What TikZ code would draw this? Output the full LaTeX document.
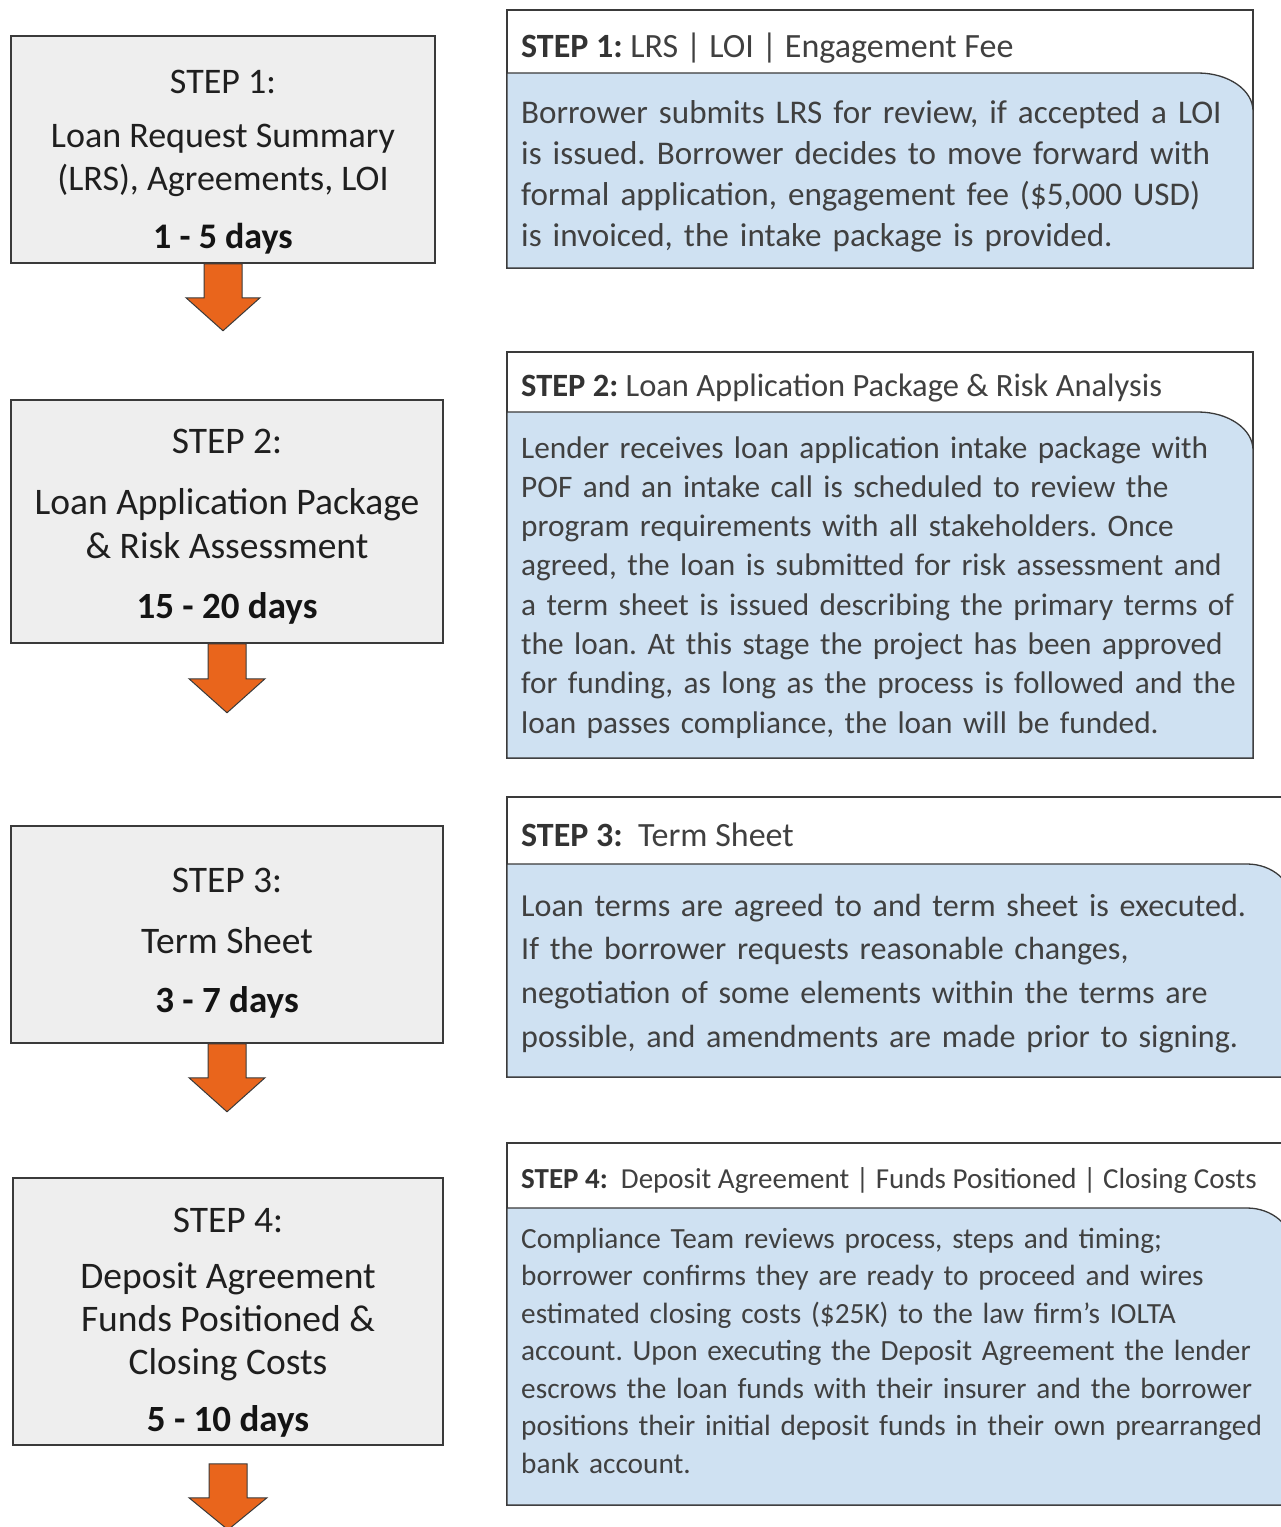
\documentclass[tikz,border=0pt]{standalone}
\usepackage{fontspec}
\setmainfont{Carlito}
\frenchspacing
\definecolor{boxgray}{HTML}{EEEEEE}
\definecolor{bodyblue}{HTML}{CFE1F2}
\definecolor{arroworange}{HTML}{E9651C}
\definecolor{linegray}{HTML}{3A3A3A}
\definecolor{txtgray}{HTML}{404040}
\definecolor{steptxt}{HTML}{333333}
\begin{document}
\begin{tikzpicture}[x=1pt,y=-1pt,
  leftbox/.style={draw=linegray, line width=1.5pt, fill=boxgray, rectangle, inner sep=0pt},
  lefttxt/.style={anchor=base, inner sep=0pt, text=black!88, font=\fontsize{37.5}{43}\selectfont},
  daytxt/.style={anchor=base, inner sep=0pt, text=black!92, font=\fontsize{37}{43}\selectfont\bfseries},
  flowarrow/.style={draw=linegray, line width=1pt, fill=arroworange, line join=miter},
  outerbox/.style={draw=linegray, line width=1.5pt, fill=white},
  bodybox/.style={draw=linegray, line width=1.3pt, fill=bodyblue},
  headtxt/.style={anchor=base west, inner sep=0pt, text=txtgray},
  bodytxt/.style={anchor=base west, inner sep=0pt, text=txtgray, text width=800pt, align=left},
]
\useasboundingbox (0,0) rectangle (1281,1527);

% ---------------- left column ----------------
\node[leftbox, minimum width=424pt, minimum height=227pt] (L1) at (223,149.5) {};
\node[lefttxt, font=\fontsize{36}{43}\selectfont] (L1a) at (223,93) {STEP 1:};
\node[lefttxt, font=\fontsize{36}{43}\selectfont] (L1b) at (223,147) {Loan Request Summary};
\node[lefttxt, font=\fontsize{36}{43}\selectfont] (L1c) at (223,190) {(LRS), Agreements, LOI};
\node[daytxt, font=\fontsize{36}{43}\selectfont\bfseries]  (L1d) at (223,248) {1 - 5 days};
\draw[flowarrow, shift={(L1.south)}] (-19,0) -- (19,0) -- (19,34) -- (37,34) -- (0,67) -- (-37,34) -- (-19,34) -- cycle;

\node[leftbox, minimum width=432pt, minimum height=243pt] (L2) at (227,521.5) {};
\node[lefttxt] (L2a) at (227,453) {STEP 2:};
\node[lefttxt] (L2b) at (227,514) {Loan Application Package};
\node[lefttxt] (L2c) at (227,558) {\& Risk Assessment};
\node[daytxt]  (L2d) at (227,618) {15 - 20 days};
\draw[flowarrow, shift={(L2.south)}] (-19,0) -- (19,0) -- (19,35) -- (38,35) -- (0,69) -- (-38,35) -- (-19,35) -- cycle;

\node[leftbox, minimum width=432pt, minimum height=217pt] (L3) at (227,934.5) {};
\node[lefttxt] (L3a) at (227,892) {STEP 3:};
\node[lefttxt] (L3b) at (227,953) {Term Sheet};
\node[daytxt]  (L3c) at (227,1012) {3 - 7 days};
\draw[flowarrow, shift={(L3.south)}] (-19,0) -- (19,0) -- (19,34) -- (38,34) -- (0,68) -- (-38,34) -- (-19,34) -- cycle;

\node[leftbox, minimum width=430pt, minimum height=267pt] (L4) at (228,1311.5) {};
\node[lefttxt] (L4a) at (228,1232) {STEP 4:};
\node[lefttxt] (L4b) at (228,1288) {Deposit Agreement};
\node[lefttxt] (L4c) at (228,1331) {Funds Positioned \&};
\node[lefttxt] (L4d) at (228,1374) {Closing Costs};
\node[daytxt]  (L4e) at (228,1431) {5 - 10 days};
\draw[flowarrow, shift={(L4.south)}] (-19,18) -- (19,18) -- (19,52) -- (39,52) -- (0,84) -- (-39,52) -- (-19,52) -- cycle;

% ---------------- right column ----------------
% R1
\draw[outerbox] (507,10) rectangle (1253,268);
\draw[bodybox] (507,268) -- (507,73) -- (1198,73) .. controls (1228.4,73) and (1253,90) .. (1253,111) -- (1253,268) -- cycle;
\node[headtxt, font=\fontsize{34}{41}\selectfont] (R1h) at (521,57) {{\bfseries\color{steptxt}STEP 1:} LRS | LOI | Engagement Fee};
\node[bodytxt, font=\fontsize{33.1}{41.3}\selectfont] (R1b) at (521,123) {Borrower submits LRS for review, if accepted a LOI\\
is issued. Borrower decides to move forward with\\
formal application, engagement fee (\$5,000 USD)\\
is invoiced, the intake package is provided.};

% R2
\draw[outerbox] (507,352) rectangle (1253,758);
\draw[bodybox] (507,758) -- (507,412) -- (1198,412) .. controls (1228.4,412) and (1253,429) .. (1253,450) -- (1253,758) -- cycle;
\node[headtxt, font=\fontsize{32.5}{39}\selectfont] (R2h) at (521,396) {{\bfseries\color{steptxt}STEP 2:} Loan Application Package \& Risk Analysis};
\node[bodytxt, font=\fontsize{31.3}{39.3}\selectfont] (R2b) at (521,458) {Lender receives loan application intake package with\\
POF and an intake call is scheduled to review the\\
program requirements with all stakeholders. Once\\
agreed, the loan is submitted for risk assessment and\\
a term sheet is issued describing the primary terms of\\
the loan. At this stage the project has been approved\\
for funding, as long as the process is followed and the\\
loan passes compliance, the loan will be funded.};

% R3
\draw[outerbox] (507,797) rectangle (1292,1077);
\draw[bodybox] (507,1077) -- (507,864) -- (1247,864) .. controls (1271.8,864) and (1292,881) .. (1292,902) -- (1292,1077) -- cycle;
\node[headtxt, font=\fontsize{34}{41}\selectfont] (R3h) at (521,846) {{\bfseries\color{steptxt}STEP 3:}\ \ Term Sheet};
\node[bodytxt, font=\fontsize{32.1}{43.7}\selectfont] (R3b) at (521,916) {Loan terms are agreed to and term sheet is executed.\\
If the borrower requests reasonable changes,\\
negotiation of some elements within the terms are\\
possible, and amendments are made prior to signing.};

% R4
\draw[outerbox] (507,1143) rectangle (1292,1505);
\draw[bodybox] (507,1505) -- (507,1208) -- (1247,1208) .. controls (1271.8,1208) and (1292,1225) .. (1292,1246) -- (1292,1505) -- cycle;
\node[headtxt, font=\fontsize{29}{35}\selectfont] (R4h) at (521,1188) {{\bfseries\color{steptxt}STEP 4:}\ \ Deposit Agreement | Funds Positioned | Closing Costs};
\node[bodytxt, font=\fontsize{29.3}{37.5}\selectfont] (R4b) at (521,1248) {Compliance Team reviews process, steps and timing;\\
borrower confirms they are ready to proceed and wires\\
estimated closing costs (\$25K) to the law firm’s IOLTA\\
account. Upon executing the Deposit Agreement the lender\\
escrows the loan funds with their insurer and the borrower\\
positions their initial deposit funds in their own prearranged\\
bank account.};
\end{tikzpicture}
\end{document}
